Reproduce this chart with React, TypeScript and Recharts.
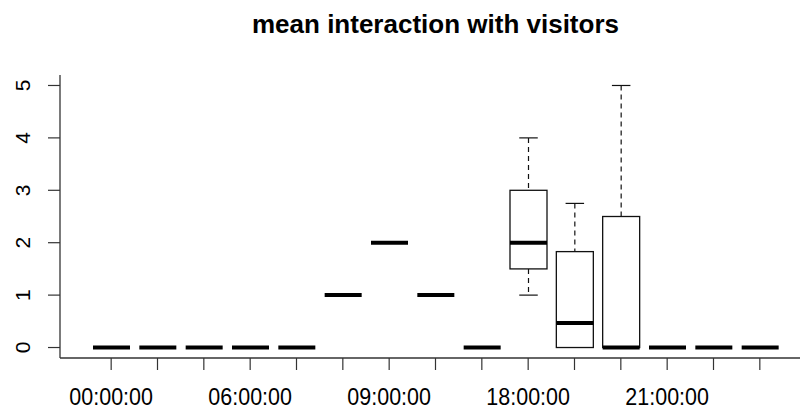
import React from 'react';
import { ComposedChart, Bar, XAxis, YAxis } from 'recharts';

// hourly buckets, five-number summaries per hour
const hours = [
  '00:00:00', '01:00:00', '05:00:00', '06:00:00', '07:00:00',
  '08:00:00', '09:00:00', '10:00:00', '17:00:00', '18:00:00',
  '19:00:00', '20:00:00', '21:00:00', '22:00:00', '23:00:00',
];
const whiskerLow = [0, 0, 0, 0, 0, 1, 2, 1, 0, 1, 0, 0, 0, 0, 0];
const boxLow = [0, 0, 0, 0, 0, 1, 2, 1, 0, 1.5, 0, 0, 0, 0, 0];
const medians = [0, 0, 0, 0, 0, 1, 2, 1, 0, 2, 0.47, 0, 0, 0, 0];
const boxHigh = [0, 0, 0, 0, 0, 1, 2, 1, 0, 3, 1.83, 2.5, 0, 0, 0];
const whiskerHigh = [0, 0, 0, 0, 0, 1, 2, 1, 0, 4, 2.75, 5, 0, 0, 0];
const yTicks = [0, 1, 2, 3, 4, 5];

const rows = hours.map((label, i) => ({
  label,
  min: whiskerLow[i],
  q1: boxLow[i],
  median: medians[i],
  q3: boxHigh[i],
  max: whiskerHigh[i],
}));

const FONT = '"Liberation Sans", Arial, sans-serif';

const BoxShape = (props: any) => {
  const { x, y, width, height, payload } = props;
  const { min, q1, median, q3, max } = payload;
  const span = max - min;
  // map a value inside [min, max] onto the bar's pixel extent
  const py = (v: number) => (span > 0 ? y + ((max - v) / span) * height : y);
  const cx = x + width / 2;
  const cap = width / 4;
  return (
    <g>
      {max > q3 && (
        <>
          <line x1={cx} x2={cx} y1={py(max)} y2={py(q3)} stroke="#111" strokeWidth={1.2} strokeDasharray="5 4" />
          <line x1={cx - cap} x2={cx + cap} y1={py(max)} y2={py(max)} stroke="#111" strokeWidth={1.2} />
        </>
      )}
      {q1 > min && (
        <>
          <line x1={cx} x2={cx} y1={py(q1)} y2={py(min)} stroke="#111" strokeWidth={1.2} strokeDasharray="5 4" />
          <line x1={cx - cap} x2={cx + cap} y1={py(min)} y2={py(min)} stroke="#111" strokeWidth={1.2} />
        </>
      )}
      {q3 > q1 && (
        <rect x={x} y={py(q3)} width={width} height={py(q1) - py(q3)} fill="#fff" stroke="#111" strokeWidth={1.3} />
      )}
      <line x1={x} x2={x + width} y1={py(median)} y2={py(median)} stroke="#000" strokeWidth={4} />
    </g>
  );
};

// every hour gets a tick mark, only every third one gets its label
const HourTick = (props: any) => {
  const { x, y, payload, index } = props;
  const i = payload?.index ?? index;
  const base = y + 47;
  return (
    <g>
      <line x1={x} x2={x} y1={y} y2={y + 12} stroke="#333" strokeWidth={1.2} />
      {i % 3 === 0 && (
        <text
          x={x}
          y={base}
          textAnchor="middle"
          fontSize={21.5}
          fontFamily={FONT}
          fill="#000"
          transform={`translate(0, ${base}) scale(1, 1.12) translate(0, ${-base})`}
        >
          {payload.value}
        </text>
      )}
    </g>
  );
};

const ValueTick = (props: any) => {
  const { x, y, payload } = props;
  const tx = x - 18;
  return (
    <text
      x={tx}
      y={y}
      textAnchor="middle"
      fontSize={21}
      fontFamily={FONT}
      fill="#000"
      transform={`rotate(-90, ${tx}, ${y})`}
    >
      {payload.value}
    </text>
  );
};

export default function App() {
  return (
    <div style={{ position: 'absolute', left: 0, top: 0, width: 800, height: 410, overflow: 'hidden', background: '#fff' }}>
      <div
        style={{
          position: 'absolute',
          left: 0,
          top: 11,
          width: 871,
          textAlign: 'center',
          fontFamily: FONT,
          fontWeight: 'bold',
          fontSize: 26,
          lineHeight: '26px',
          color: '#000',
        }}
      >
        mean interaction with visitors
      </div>
      <ComposedChart
        width={812}
        height={410}
        data={rows}
        margin={{ top: 75, right: 1, left: 0, bottom: 0 }}
      >
        <XAxis
          xAxisId="frame"
          dataKey="label"
          orientation="top"
          height={0}
          tick={false}
          tickLine={false}
          axisLine={{ stroke: '#333', strokeWidth: 1.3 }}
        />
        <XAxis
          dataKey="label"
          type="category"
          height={52}
          interval={0}
          padding={{ left: 28, right: 28 }}
          tickSize={0}
          tickMargin={0}
          tickLine={false}
          axisLine={{ stroke: '#333', strokeWidth: 1.3 }}
          tick={<HourTick />}
        />
        <YAxis
          type="number"
          width={60}
          domain={[-0.2, 5.2]}
          ticks={yTicks}
          interval={0}
          tickSize={12}
          tickMargin={0}
          tickLine={{ stroke: '#333', strokeWidth: 1.2 }}
          axisLine={{ stroke: '#333', strokeWidth: 1.3 }}
          tick={<ValueTick />}
        />
        <Bar
          dataKey={(d: any) => [d.min, d.max]}
          barSize={37}
          shape={<BoxShape />}
          isAnimationActive={false}
        />
      </ComposedChart>
    </div>
  );
}
